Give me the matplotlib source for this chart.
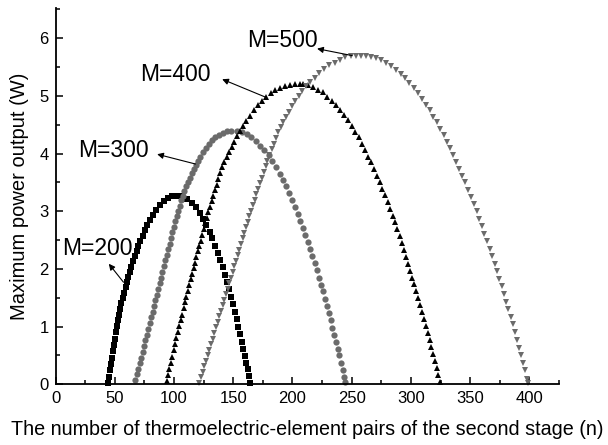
import matplotlib
matplotlib.use("Agg")
import matplotlib.pyplot as plt
from matplotlib.ticker import MultipleLocator

plt.rcParams['font.family'] = ['Liberation Sans', 'DejaVu Sans']

# ---- data ----
n_200 = [44.4, 45.2, 46.0, 46.8, 47.6, 48.4, 49.2, 50.0, 50.9, 51.8, 52.7, 53.6, 54.6, 55.6,
         56.7, 57.9, 59.1, 60.3, 61.5, 62.7, 64.0, 65.4, 66.9, 68.4, 70.0, 71.7, 73.5, 75.4,
         77.5, 79.8, 82.3, 85.0, 88.0, 91.3, 94.8, 98.5, 102.3,
         107, 111, 114.8, 118.3, 121.6, 124.6, 127.4, 130, 132.4, 134.7, 136.9, 139, 141,
         142.9, 144.7, 146.4, 148.1, 149.7, 151.3, 152.8, 154.3, 155.8, 157.2, 158.6, 159.8,
         161, 162.1, 163.2, 164.3]
p_200 = [0.02, 0.13, 0.24, 0.35, 0.46, 0.57, 0.68, 0.79, 0.90, 1.01, 1.11, 1.21, 1.31, 1.41,
         1.50, 1.59, 1.68, 1.77, 1.86, 1.95, 2.04, 2.13, 2.22, 2.31, 2.40, 2.49, 2.58, 2.67,
         2.76, 2.85, 2.94, 3.03, 3.11, 3.18, 3.23, 3.26, 3.27,
         3.26, 3.21, 3.15, 3.07, 2.97, 2.87, 2.76, 2.64, 2.53, 2.40, 2.28, 2.15, 2.03,
         1.90, 1.77, 1.65, 1.52, 1.39, 1.26, 1.13, 1.00, 0.87, 0.74, 0.61, 0.49,
         0.37, 0.26, 0.15, 0.03]

n_300 = [67.5, 68.7, 69.9, 71.1, 72.3, 73.5, 74.7, 75.9, 77.1, 78.3, 79.5, 80.7, 81.9, 83.1,
         84.3, 85.5, 86.7, 87.9, 89.1, 90.3, 91.5, 92.7, 93.9, 95.1, 96.3, 97.5, 98.7, 99.9,
         101.1, 102.3, 103.5, 104.8, 106.1, 107.4, 108.8, 110.2, 111.7, 113.2, 114.8, 116.5,
         118.3, 120.2, 122.2, 124.4, 126.7, 129.2, 131.9, 134.8, 137.9, 141.2, 144.6, 148.1,
         153.5, 157.5, 161.5, 165.4, 169.2, 172.9, 176.4, 179.8, 183, 186.1, 189.1, 191.9,
         194.6, 197.2, 199.7, 202.1, 204.4, 206.6, 208.8, 210.9, 212.9, 214.9, 216.8, 218.7,
         220.5, 222.3, 224, 225.7, 227.4, 229, 230.6, 232.2, 233.7, 235.2, 236.7, 238.1,
         239.5, 240.9, 242.3, 243.7, 244.6]
p_300 = [0.07, 0.17, 0.27, 0.37, 0.46, 0.56, 0.66, 0.76, 0.86, 0.96, 1.06, 1.16, 1.26, 1.36,
         1.46, 1.55, 1.65, 1.75, 1.85, 1.95, 2.05, 2.15, 2.25, 2.34, 2.44, 2.54, 2.64, 2.73,
         2.83, 2.92, 3.01, 3.10, 3.19, 3.27, 3.35, 3.43, 3.51, 3.58, 3.66, 3.73,
         3.80, 3.87, 3.94, 4.02, 4.10, 4.17, 4.23, 4.28, 4.33, 4.36, 4.39, 4.40,
         4.39, 4.37, 4.34, 4.28, 4.22, 4.14, 4.06, 3.97, 3.87, 3.76, 3.65, 3.54,
         3.43, 3.31, 3.20, 3.08, 2.96, 2.84, 2.71, 2.59, 2.47, 2.35, 2.22, 2.10,
         1.98, 1.85, 1.73, 1.61, 1.48, 1.36, 1.23, 1.11, 0.98, 0.86, 0.74, 0.62,
         0.50, 0.37, 0.25, 0.12, 0.04]

n_400 = [93.7, 94.9, 96.1, 97.3, 98.5, 99.7, 100.9, 102.1, 103.3, 104.5, 105.7, 106.9, 108.1,
         109.3, 110.5, 111.7, 112.9, 114.1, 115.3, 116.5, 117.7, 118.9, 120.1, 121.3, 122.5,
         123.8, 125.1, 126.4, 127.7, 129.0, 130.3, 131.7, 133.1, 134.5, 136.0, 137.5, 139.1,
         140.8, 142.6, 144.5, 146.5, 148.6, 150.8, 153.2, 155.7, 158.3, 161.1, 164.1, 167.3,
         170.7, 174.2, 177.8, 181.6, 185.6, 189.7, 193.9, 198.2, 202.5, 206.0,
         209, 213.3, 217.5, 221.6, 225.6, 229.5, 233.2, 236.8, 240.3, 243.6, 246.8, 249.9,
         252.9, 255.8, 258.6, 261.3, 263.9, 266.4, 268.9, 271.3, 273.6, 275.9, 278.1, 280.3,
         282.4, 284.5, 286.5, 288.5, 290.4, 292.3, 294.2, 296, 297.8, 299.6, 301.3, 303,
         304.7, 306.4, 308, 309.6, 311.2, 312.8, 314.3, 315.8, 317.3, 318.8, 320.3, 321.7,
         323.1, 324.5]
p_400 = [0.05, 0.16, 0.27, 0.37, 0.48, 0.59, 0.70, 0.80, 0.90, 1.01, 1.11, 1.21, 1.32,
         1.42, 1.52, 1.62, 1.72, 1.82, 1.91, 2.01, 2.11, 2.21, 2.31, 2.40, 2.49,
         2.59, 2.69, 2.79, 2.89, 2.98, 3.08, 3.18, 3.27, 3.37, 3.46, 3.56, 3.66,
         3.76, 3.85, 3.94, 4.03, 4.12, 4.21, 4.30, 4.39, 4.48, 4.57, 4.66, 4.75,
         4.84, 4.92, 4.99, 5.05, 5.10, 5.14, 5.17, 5.19, 5.21, 5.21,
         5.20, 5.19, 5.15, 5.11, 5.06, 4.99, 4.92, 4.84, 4.76, 4.67, 4.58, 4.48,
         4.38, 4.28, 4.17, 4.06, 3.95, 3.85, 3.73, 3.62, 3.51, 3.39, 3.28, 3.16,
         3.04, 2.92, 2.81, 2.69, 2.57, 2.45, 2.33, 2.21, 2.09, 1.97, 1.85, 1.74,
         1.61, 1.49, 1.37, 1.25, 1.13, 1.01, 0.89, 0.77, 0.65, 0.52, 0.40, 0.28,
         0.16, 0.04]

n_500 = [121.5, 122.9, 124.3, 125.7, 127.1, 128.5, 129.9, 131.3, 132.7, 134.1, 135.5, 136.9,
         138.3, 139.7, 141.1, 142.5, 143.9, 145.3, 146.7, 148.1, 149.5, 150.9, 152.3, 153.7,
         155.1, 156.5, 157.9, 159.3, 160.7, 162.1, 163.6, 165.1, 166.6, 168.1, 169.6, 171.1,
         172.6, 174.1, 175.7, 177.3, 178.9, 180.6, 182.4, 184.2, 186.1, 188.1, 190.2, 192.4,
         194.7, 197.1, 199.7, 202.4, 205.3, 208.4, 211.7, 215.2, 218.9, 222.8, 226.9, 231.2,
         235.6, 240.1, 244.7, 249.3, 253.9, 258.0,
         262, 266.4, 270.8, 275.1, 279.3, 283.4, 287.4, 291.3, 295.1, 298.8, 302.4, 305.9,
         309.3, 312.6, 315.8, 318.9, 321.9, 324.8, 327.6, 330.4, 333.1, 335.8, 338.4, 341,
         343.5, 346, 348.4, 350.8, 353.1, 355.4, 357.7, 359.9, 362.1, 364.3, 366.4, 368.5,
         370.6, 372.6, 374.6, 376.6, 378.5, 380.4, 382.3, 384.2, 386, 387.8, 389.6, 391.4,
         393.1, 394.8, 396.5, 398.2, 399.2]
p_500 = [0.02, 0.12, 0.21, 0.31, 0.41, 0.50, 0.60, 0.70, 0.79, 0.89, 0.99, 1.08,
         1.18, 1.27, 1.37, 1.47, 1.56, 1.66, 1.76, 1.85, 1.95, 2.05, 2.14, 2.24,
         2.33, 2.43, 2.53, 2.62, 2.72, 2.81, 2.91, 3.01, 3.11, 3.20, 3.30, 3.39,
         3.49, 3.58, 3.68, 3.78, 3.88, 3.98, 4.08, 4.17, 4.27, 4.37, 4.46, 4.55,
         4.64, 4.73, 4.83, 4.92, 5.00, 5.09, 5.17, 5.25, 5.32, 5.39, 5.46, 5.53,
         5.58, 5.63, 5.67, 5.69, 5.70, 5.70,
         5.70, 5.68, 5.65, 5.62, 5.57, 5.52, 5.45, 5.38, 5.31, 5.23, 5.14, 5.05,
         4.95, 4.85, 4.75, 4.64, 4.54, 4.43, 4.32, 4.21, 4.09, 3.98, 3.86, 3.74,
         3.62, 3.50, 3.37, 3.25, 3.13, 3.00, 2.87, 2.74, 2.61, 2.48, 2.35, 2.22,
         2.09, 1.96, 1.83, 1.70, 1.57, 1.43, 1.30, 1.17, 1.04, 0.90, 0.77, 0.63,
         0.50, 0.37, 0.24, 0.10, 0.02]

labels = ["M=200", "M=300", "M=400", "M=500"]
x_ticks = [0, 50, 100, 150, 200, 250, 300, 350, 400]
y_ticks = [0, 1, 2, 3, 4, 5, 6]

# ---- figure ----
fig = plt.figure(figsize=(6.08, 4.45), dpi=100)
ax = fig.add_axes([55.5 / 608, (445 - 384.3) / 445, (559 - 55.5) / 608, (384.3 - 8.3) / 445])

gray = '#6b6b6b'
ax.plot(n_200, p_200, linestyle='none', marker='s', ms=4.0, color='black', mec='black', mew=0, clip_on=False)
ax.plot(n_300, p_300, linestyle='none', marker='o', ms=4.5, color=gray, mec=gray, mew=0, clip_on=False)
ax.plot(n_400, p_400, linestyle='none', marker='^', ms=5.0, color='black', mec='black', mew=0, clip_on=False)
ax.plot(n_500, p_500, linestyle='none', marker='v', ms=5.0, color=gray, mec=gray, mew=0, clip_on=False)

ax.set_xlim(0, 425)
ax.set_ylim(0, 6.52)
ax.set_xticks(x_ticks)
ax.set_yticks(y_ticks)
ax.xaxis.set_minor_locator(MultipleLocator(25))
ax.yaxis.set_minor_locator(MultipleLocator(0.5))
ax.tick_params(which='both', direction='in', width=1.1, labelsize=12, pad=5)
ax.tick_params(which='major', length=5)
ax.tick_params(which='minor', length=3)
for s in ['top', 'right']:
    ax.spines[s].set_visible(False)
for s in ['left', 'bottom']:
    ax.spines[s].set_linewidth(1.3)

ax.set_xlabel("The number of thermoelectric-element pairs of the second stage (n)", fontsize=14.2, labelpad=10)
ax.set_ylabel("Maximum power output (W)", fontsize=14.5, labelpad=7)

lab_fs = 16.5
arrow = dict(arrowstyle='-|>', lw=0.8, color='black', mutation_scale=9, shrinkA=0, shrinkB=0)
# M=200
ax.text(5.5, 2.36, labels[0], fontsize=lab_fs, ha='left', va='center')
ax.annotate('', xy=(45.0, 2.09), xytext=(57.4, 1.77), arrowprops=arrow)
# M=300
ax.text(19.0, 4.06, labels[1], fontsize=lab_fs, ha='left', va='center')
ax.annotate('', xy=(85.8, 3.99), xytext=(118.1, 3.82), arrowprops=arrow)
# M=400
ax.text(71.3, 5.38, labels[2], fontsize=lab_fs, ha='left', va='center')
ax.annotate('', xy=(140.7, 5.29), xytext=(177.2, 4.98), arrowprops=arrow)
# M=500
ax.text(161.5, 5.97, labels[3], fontsize=lab_fs, ha='left', va='center')
ax.annotate('', xy=(220.8, 5.82), xytext=(250.4, 5.70), arrowprops=arrow)

fig.savefig("out.png", dpi=100)
